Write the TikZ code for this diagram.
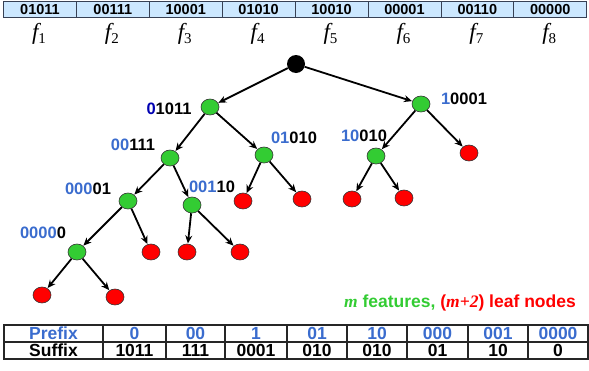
\documentclass[tikz,border=0pt]{standalone}
\usepackage{fontspec}
\setmainfont{Liberation Sans}
\newfontfamily\tnr{Liberation Serif}
\usetikzlibrary{arrows.meta, positioning, shapes.geometric}
\definecolor{barfill}{RGB}{204,232,255}
\definecolor{barline}{RGB}{55,65,85}
\definecolor{nodegreen}{RGB}{51,204,51}
\definecolor{prefblue}{RGB}{58,108,206}
\newcommand{\pre}[1]{\textcolor{prefblue}{#1}}
\newcommand{\flab}[1]{{\tnr\itshape f}\raisebox{-4pt}{\tnr\fontsize{15}{15}\selectfont #1}}
\tikzset{
  featcell/.style={draw=barline, fill=barfill, line width=0.8pt, minimum width=72.9pt,
    minimum height=16pt, inner sep=0pt, font=\fontsize{14.5}{14.5}\selectfont\bfseries},
  tabcell/.style={draw=black!85, line width=1.3pt, minimum height=17pt, inner sep=0pt,
    font=\fontsize{17.5}{17.5}\selectfont\bfseries},
  gnode/.style={ellipse, draw=black!80, fill=nodegreen, line width=0.6pt,
    minimum width=18pt, minimum height=16pt, inner sep=0pt},
  rnode/.style={gnode, fill=red},
  rootnode/.style={circle, fill=black, minimum size=18pt, inner sep=0pt},
  lab/.style={font=\fontsize{16.5}{16.5}\selectfont\bfseries, inner sep=0pt},
  edge/.style={-{Stealth[length=8pt, width=7pt]}, line width=1.8pt, shorten >=0.3pt}
}
\begin{document}
\begin{tikzpicture}[x=1pt, y=-1pt]
  \useasboundingbox (0,0) rectangle (589,370);

  % feature bar
  \foreach \v [count=\i] in {01011,00111,10001,01010,10010,00001,00110,00000} {
    \node[featcell] (f\i) at ({3.5+72.9*(\i-0.5)},9.5) {\v};
    \node[font=\fontsize{23}{23}\selectfont] (fl\i) at ({3.5+72.9*(\i-0.5)-1},34) {\flab{\i}};
  }

  % tree
  \node[rootnode] (root) at (296,64) {};
  \node[gnode] (a) at (210,107) {};
  \node[gnode] (b) at (421,104) {};
  \node[gnode] (c) at (170,158) {};
  \node[gnode] (d) at (264,155) {};
  \node[gnode] (e) at (376,156) {};
  \node[rnode] (bf) at (469,153) {};
  \node[gnode] (g) at (128,201) {};
  \node[gnode] (h) at (192,205) {};
  \node[rnode] (d1) at (243,201) {};
  \node[rnode] (d2) at (302,199) {};
  \node[rnode] (e1) at (352,199) {};
  \node[rnode] (e2) at (404,198) {};
  \node[gnode] (k) at (77,252) {};
  \node[rnode] (g1) at (151,252) {};
  \node[rnode] (h1) at (187,252) {};
  \node[rnode] (h2) at (240,252) {};
  \node[rnode] (k1) at (42,295) {};
  \node[rnode] (k2) at (115,297) {};

  \foreach \s/\t in {root/a, root/b, a/c, a/d, b/e, b/bf, c/g, c/h, d/d1, d/d2,
                     e/e1, e/e2, g/k, g/g1, h/h1, h/h2, k/k1, k/k2}
    \draw[edge] (\s) -- (\t);

  % labels
  \node[lab] (la) at (169,109) {\textcolor{blue!70!black}{0}1011};
  \node[lab] (lb) at (464,99) {\pre{1}0001};
  \node[lab] (lc) at (133,145) {\pre{00}111};
  \node[lab] (ld) at (294,138) {\pre{01}010};
  \node[lab] (le) at (364,136) {\pre{10}010};
  \node[lab] (lg) at (88,189) {\pre{000}01};
  \node[lab] (lh) at (212,187) {\pre{001}10};
  \node[lab] (lk) at (43,233) {\pre{0000}0};

  \node[lab, font=\fontsize{17.5}{17.5}\selectfont\bfseries, anchor=east] (note) at (576,303)
    {\textcolor{nodegreen}{{\tnr\itshape m} features,}
     \textcolor{red}{({\tnr\itshape m+2}) leaf nodes}};

  % prefix / suffix table
  \node[tabcell, minimum width=99pt, text=prefblue] (p0) at (53.5,333.5) {Prefix};
  \node[tabcell, minimum width=99pt] (s0) at (53.5,350.5) {Suffix};
  \foreach \x/\w/\p/\q [count=\i] in {134.5/63/0/1011, 195.5/59/00/111, 256/62/1/0001,
      317/60/01/010, 377/60/10/010, 437.5/61/000/01, 498/60/001/10, 558/60/0000/0} {
    \node[tabcell, minimum width=\w pt, text=prefblue] (p\i) at (\x,333.5) {\p};
    \node[tabcell, minimum width=\w pt] (s\i) at (\x,350.5) {\q};
  }
\end{tikzpicture}
\end{document}
